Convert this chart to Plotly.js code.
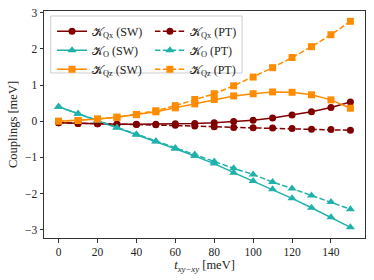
<!DOCTYPE html>
<html><head><meta charset="utf-8">
<script src="https://cdn.plot.ly/plotly-3.0.1.min.js"></script>
<style>html,body{margin:0;padding:0;background:#fff}</style>
</head><body><div id="c" style="width:374px;height:280px"></div>
<script>
const t = [0,10,20,30,40,50,60,70,80,90,100,110,120,130,140,150];
const qxSW = [-0.04,-0.06,-0.07,-0.08,-0.08,-0.08,-0.07,-0.06,-0.04,-0.01,0.03,0.09,0.17,0.26,0.38,0.53];
const qxPT = [-0.04,-0.06,-0.07,-0.08,-0.09,-0.10,-0.11,-0.13,-0.15,-0.17,-0.18,-0.19,-0.20,-0.22,-0.23,-0.25];
const oSW = [0.40,0.21,0.02,-0.17,-0.37,-0.56,-0.76,-0.96,-1.17,-1.42,-1.65,-1.88,-2.13,-2.39,-2.65,-2.93];
const oPT = [0.40,0.21,0.02,-0.17,-0.36,-0.55,-0.74,-0.92,-1.11,-1.30,-1.47,-1.68,-1.86,-2.05,-2.23,-2.43];
const qzSW = [0.00,0.02,0.06,0.11,0.18,0.26,0.37,0.48,0.60,0.70,0.76,0.81,0.80,0.73,0.59,0.36];
const qzPT = [0.00,0.02,0.06,0.11,0.19,0.29,0.43,0.60,0.76,0.98,1.22,1.48,1.76,2.06,2.39,2.76];
const names = ['𝒦<sub>Qx</sub> (SW)','𝒦<sub>O</sub> (SW)','𝒦<sub>Qz</sub> (SW)','𝒦<sub>Qx</sub> (PT)','𝒦<sub>O</sub> (PT)','𝒦<sub>Qz</sub> (PT)'];
const colors = {qx:'#800000', o:'#20b2aa', qz:'#ff8c00'};
function tr(y, name, color, sym, msize, dash, leg){
  return {x:t, y:y, name:name, type:'scatter', mode:'lines+markers',
    line:{color:color, width:1.5, dash:dash},
    marker:{color:color, symbol:sym, size:msize}, legend:leg};
}
const DASH = '5.5px,2.4px';
const data = [
  tr(qxSW, names[0], colors.qx, 'circle', 7, 'solid', 'legend'),
  tr(oSW, names[1], colors.o, 'triangle-up', 8, 'solid', 'legend'),
  tr(qzSW, names[2], colors.qz, 'square', 7, 'solid', 'legend'),
  tr(qxPT, names[3], colors.qx, 'circle', 7, DASH, 'legend2'),
  tr(oPT, names[4], colors.o, 'triangle-up', 8, DASH, 'legend2'),
  tr(qzPT, names[5], colors.qz, 'square', 7, DASH, 'legend2')
];
const font = {family:'Liberation Serif, DejaVu Serif, serif', size:11.5, color:'#222'};
const layout = {
  width:374, height:280,
  margin:{l:44, r:9, t:11, b:42},
  paper_bgcolor:'#fff', plot_bgcolor:'#fff',
  font:font,
  showlegend:true,
  xaxis:{range:[-7.5,157.5], tickvals:[0,20,40,60,80,100,120,140], showgrid:false, zeroline:false,
    showline:true, mirror:true, linecolor:'#333', linewidth:1, ticks:'outside', ticklen:3.5, tickcolor:'#333',
    title:{text:'<i>t<sub>xy−xy</sub></i> [meV]', standoff:2, font:{size:12.5}}},
  yaxis:{range:[-3.225,3.045], tickvals:[-3,-2,-1,0,1,2,3], showgrid:false, zeroline:false,
    showline:true, mirror:true, linecolor:'#333', linewidth:1, ticks:'outside', ticklen:3.5, tickcolor:'#333',
    title:{text:'Couplings [meV]', standoff:4, font:{size:12.5}}},
  legend:{x:0.025, y:0.975, xanchor:'left', yanchor:'top', bgcolor:'rgba(0,0,0,0)', borderwidth:0,
    font:{size:12}, itemwidth:30, tracegroupgap:0},
  legend2:{x:0.33, y:0.975, xanchor:'left', yanchor:'top', bgcolor:'rgba(0,0,0,0)', borderwidth:0,
    font:{size:12}, itemwidth:30, tracegroupgap:0},
  shapes:[{type:'rect', xref:'paper', yref:'paper', x0:0.021, x1:0.617, y0:0.727, y1:0.978,
    line:{color:'#cccccc', width:1}, fillcolor:'rgba(255,255,255,0.8)', layer:'above'}]
};
Plotly.newPlot('c', data, layout, {staticPlot:true});
</script></body></html>
